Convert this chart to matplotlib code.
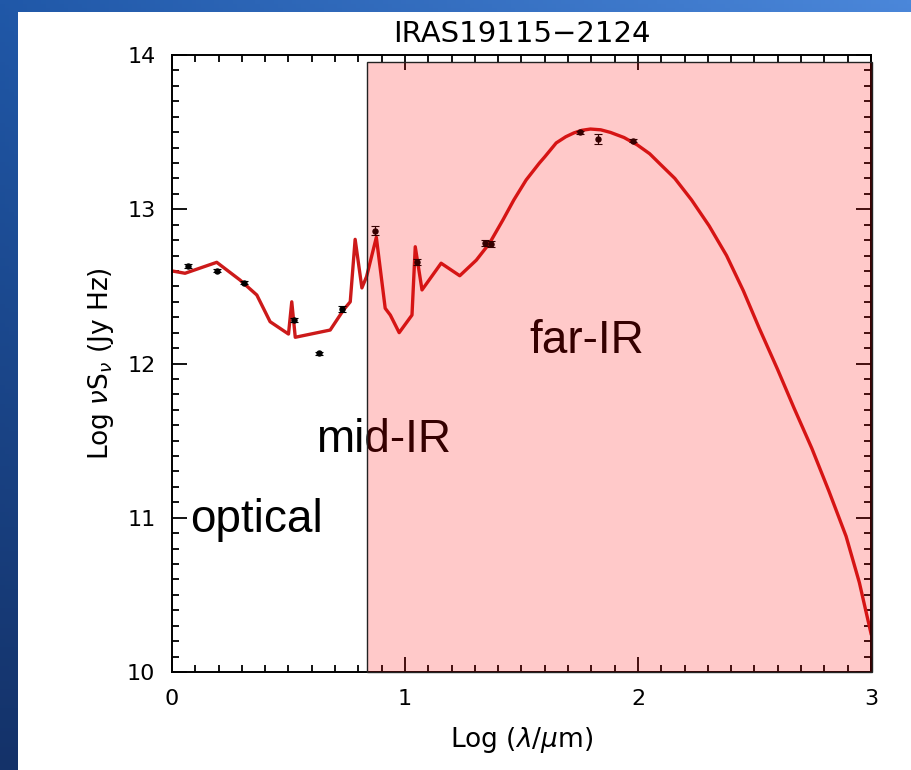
"""SED of IRAS19115-2124 with the far-IR shaded band, on a slide-style background."""

import matplotlib
matplotlib.use("Agg")
import matplotlib.pyplot as plt
import numpy as np
from matplotlib.patches import Rectangle

# model SED (log lambda [um], log nu S_nu [Jy Hz])
model_logwl = [0.0, 0.056, 0.192, 0.292, 0.364, 0.421, 0.50, 0.514, 0.529, 0.679,
               0.736, 0.765, 0.786, 0.815, 0.835, 0.877, 0.915, 0.937, 0.975, 1.03,
               1.044, 1.073, 1.155, 1.235, 1.306, 1.363, 1.42, 1.467, 1.52, 1.577,
               1.60, 1.649, 1.69, 1.725, 1.76, 1.796, 1.84, 1.882, 1.94, 1.997,
               2.05, 2.097, 2.158, 2.23, 2.305, 2.38, 2.452, 2.52, 2.599, 2.67,
               2.746, 2.82, 2.893, 2.95, 3.0]
model_lognus = [12.60, 12.585, 12.656, 12.541, 12.444, 12.271, 12.191, 12.40, 12.17, 12.217,
                12.347, 12.40, 12.805, 12.49, 12.563, 12.818, 12.358, 12.314, 12.20, 12.314,
                12.757, 12.477, 12.65, 12.569, 12.67, 12.78, 12.93, 13.06, 13.19, 13.30,
                13.34, 13.43, 13.47, 13.495, 13.512, 13.52, 13.515, 13.498, 13.465, 13.417,
                13.36, 13.29, 13.20, 13.06, 12.893, 12.70, 12.472, 12.23, 11.962, 11.71,
                11.45, 11.17, 10.88, 10.58, 10.25]

# photometry
obs_logwl = [0.07, 0.195, 0.31, 0.524, 0.629, 0.729, 0.872, 1.05, 1.342, 1.37, 1.753, 1.829, 1.978]
obs_lognus = [12.632, 12.60, 12.524, 12.282, 12.066, 12.351, 12.861, 12.66, 12.78, 12.775, 13.50, 13.455, 13.445]
obs_err = [0.01, 0.01, 0.01, 0.015, 0.01, 0.02, 0.03, 0.02, 0.02, 0.02, 0.01, 0.03, 0.01]

band_labels = ["optical", "mid-IR", "far-IR"]
band_label_x = [0.077, 0.62, 1.535]
band_label_y = [10.907, 11.428, 12.066]

farir_x0, farir_x1 = 0.838, 3.005
farir_ytop = 13.955

W, H, DPI = 912, 770, 100
fig = plt.figure(figsize=(W / DPI, H / DPI), dpi=DPI)

# slide background: blue gradient, white panel
bg = fig.add_axes([0, 0, 1, 1], zorder=-10)
gy, gx = np.mgrid[0:1:200j, 0:1:200j]
top_left = np.array([32, 88, 168]) / 255
bot_left = np.array([20, 50, 105]) / 255
top_right = np.array([75, 135, 218]) / 255
img = (top_left[None, None, :] * (1 - gy[..., None]) + bot_left[None, None, :] * gy[..., None]
       + (top_right - top_left)[None, None, :] * (gx[..., None] * (1 - gy[..., None])))
bg.imshow(np.clip(img, 0, 1), extent=[0, 1, 0, 1], aspect="auto", origin="upper")
bg.add_patch(Rectangle((18 / W, 0), 1, 1 - 12 / H, facecolor="white", edgecolor="none"))
bg.set_xlim(0, 1)
bg.set_ylim(0, 1)
bg.axis("off")

ax = fig.add_axes([172 / W, 1 - 672 / H, 699 / W, 617 / H])
ax.set_facecolor("none")

ax.plot(model_logwl, model_lognus, color="#cc1a1a", lw=2.4, zorder=2)
ax.errorbar(obs_logwl, obs_lognus, yerr=obs_err, fmt="o", color="black", ms=3.6,
            elinewidth=0.8, capsize=3, capthick=0.8, zorder=3)

for lab, lx, ly in zip(band_labels, band_label_x, band_label_y):
    ax.text(lx, ly, lab, fontsize=33, family=["Liberation Sans", "DejaVu Sans"],
            ha="left", va="baseline", zorder=4)

ax.add_patch(Rectangle((farir_x0, 10), farir_x1 - farir_x0, farir_ytop - 10,
                       facecolor=(1, 0, 0, 0.21), edgecolor="#222222", lw=1.0,
                       zorder=10, clip_on=False))

ax.set_xlim(0, 3)
ax.set_ylim(10, 14)
ax.set_xticks([0, 1, 2, 3])
ax.set_yticks([10, 11, 12, 13, 14])
ax.set_xticks(np.arange(0, 3.01, 0.1), minor=True)
ax.set_yticks(np.arange(10, 14.01, 0.1), minor=True)
ax.tick_params(which="both", direction="in", top=True, right=True, width=1.3,
               labelsize=16, colors="black")
ax.tick_params(which="major", length=10.5, pad=12)
ax.tick_params(which="minor", length=5)
for sp in ax.spines.values():
    sp.set_linewidth(1.4)

ax.set_xlabel(r"Log $(\lambda/\mu\mathrm{m})$", fontsize=19, labelpad=12)
ax.set_ylabel(r"Log $\nu\mathrm{S}_\nu$ (Jy Hz)", fontsize=19, labelpad=8)
ax.set_title("IRAS19115\u22122124", fontsize=21, pad=9)

fig.savefig("out.png", dpi=DPI)
